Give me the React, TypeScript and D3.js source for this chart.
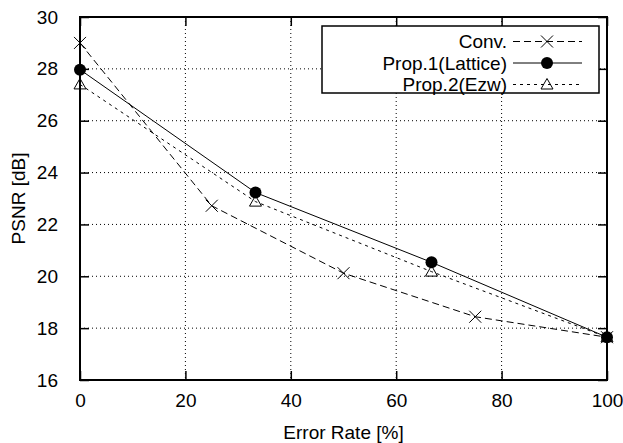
import React, { useRef, useEffect } from 'react';
import * as d3 from 'd3';

// values
const convRate = [0, 25, 50, 75, 100];
const convPsnr = [29.0, 22.72, 20.12, 18.44, 17.65];
const propRate = [0, 33.3, 66.7, 100];
const prop1Psnr = [27.97, 23.23, 20.54, 17.65];
const prop2Psnr = [27.4, 22.88, 20.18, 17.65];
const xTicks = [0, 20, 40, 60, 80, 100];
const yTicks = [16, 18, 20, 22, 24, 26, 28, 30];
const seriesNames = ['Conv.', 'Prop.1(Lattice)', 'Prop.2(Ezw)'];

const W = 623;
const H = 443;
const FONT = 'Liberation Sans, Arial, Helvetica, sans-serif';

const App = () => {
	const svgRef = useRef<SVGSVGElement>(null);

	useEffect(() => {
		const svg = d3.select(svgRef.current);
		svg.selectAll('*').remove();

		const left = 80, right = 607, top = 17, bottom = 380;
		const x = d3.scaleLinear().domain([0, 100]).range([left, right]);
		const y = d3.scaleLinear().domain([16, 30]).range([bottom, top]);

		// grid
		const grid = svg.append('g')
			.attr('stroke', '#000')
			.attr('stroke-width', 1)
			.attr('stroke-dasharray', '1,3');
		grid.selectAll('.gx')
			.data(xTicks.slice(1, -1))
			.join('line')
				.attr('x1', d => x(d)).attr('x2', d => x(d))
				.attr('y1', top).attr('y2', bottom);
		grid.selectAll('.gy')
			.data(yTicks.slice(1, -1))
			.join('line')
				.attr('x1', left).attr('x2', right)
				.attr('y1', d => y(d)).attr('y2', d => y(d));

		// axes: ticks inward on all four sides
		const tl = 9;
		const axisG = svg.append('g').attr('font-family', FONT).attr('font-size', 19);
		const xAxis = d3.axisBottom(x).tickValues(xTicks).tickSizeInner(-tl).tickSizeOuter(0).tickPadding(14);
		const yAxis = d3.axisLeft(y).tickValues(yTicks).tickSizeInner(-tl).tickSizeOuter(0).tickPadding(22);
		const xTop = d3.axisTop(x).tickValues(xTicks).tickSizeInner(-tl).tickSizeOuter(0).tickFormat(() => '');
		const yRight = d3.axisRight(y).tickValues(yTicks).tickSizeInner(-tl).tickSizeOuter(0).tickFormat(() => '');

		axisG.append('g').attr('transform', `translate(0,${bottom})`).call(xAxis);
		axisG.append('g').attr('transform', `translate(${left},0)`).call(yAxis);
		axisG.append('g').attr('transform', `translate(0,${top})`).call(xTop);
		axisG.append('g').attr('transform', `translate(${right},0)`).call(yRight);
		axisG.selectAll('.domain').remove();
		axisG.selectAll('.tick line').attr('stroke', '#000').attr('stroke-width', 1.5);
		axisG.selectAll('.tick text').attr('fill', '#000').attr('font-family', FONT).attr('font-size', 19);

		// border
		svg.append('rect')
			.attr('x', left).attr('y', top)
			.attr('width', right - left).attr('height', bottom - top)
			.attr('fill', 'none').attr('stroke', '#000').attr('stroke-width', 2);

		// axis titles
		svg.append('text')
			.attr('x', (left + right) / 2).attr('y', 439)
			.attr('text-anchor', 'middle')
			.attr('font-family', FONT).attr('font-size', 19)
			.text('Error Rate [%]');
		svg.append('text')
			.attr('transform', `translate(25,${(top + bottom) / 2}) rotate(-90)`)
			.attr('text-anchor', 'middle')
			.attr('font-family', FONT).attr('font-size', 19)
			.text('PSNR [dB]');

		const line = d3.line<[number, number]>().x(d => x(d[0])).y(d => y(d[1]));
		const series = [
			{ pts: convRate.map((r, i) => [r, convPsnr[i]] as [number, number]), dash: '7,4', mark: 'cross' },
			{ pts: propRate.map((r, i) => [r, prop1Psnr[i]] as [number, number]), dash: null, mark: 'circle' },
			{ pts: propRate.map((r, i) => [r, prop2Psnr[i]] as [number, number]), dash: '3,4', mark: 'tri' },
		];

		const drawMark = (g: any, mark: string, cx: number, cy: number) => {
			if (mark === 'cross') {
				const s = 6;
				g.append('path')
					.attr('d', `M${cx - s},${cy - s}L${cx + s},${cy + s}M${cx - s},${cy + s}L${cx + s},${cy - s}`)
					.attr('stroke', '#000').attr('stroke-width', 1).attr('fill', 'none');
			} else if (mark === 'circle') {
				g.append('circle').attr('cx', cx).attr('cy', cy).attr('r', 6).attr('fill', '#000');
			} else {
				const s = 6;
				g.append('path')
					.attr('d', `M${cx},${cy - s}L${cx + s},${cy + s * 0.75}L${cx - s},${cy + s * 0.75}Z`)
					.attr('stroke', '#000').attr('stroke-width', 1).attr('fill', 'none');
			}
		};

		const plot = svg.append('g');
		series.forEach(s => {
			plot.append('path')
				.attr('d', line(s.pts))
				.attr('fill', 'none').attr('stroke', '#000').attr('stroke-width', 1)
				.attr('stroke-dasharray', s.dash);
			s.pts.forEach(p => drawMark(plot, s.mark, x(p[0]), y(p[1])));
		});

		// legend
		const lg = svg.append('g').attr('font-family', FONT).attr('font-size', 19);
		lg.append('rect')
			.attr('x', 322).attr('y', 26).attr('width', 277).attr('height', 67)
			.attr('fill', '#fff').attr('stroke', '#000').attr('stroke-width', 1.5);
		series.forEach((s, i) => {
			const cy = 41.5 + i * 21.5;
			lg.append('text')
				.attr('x', 507).attr('y', cy).attr('dy', '0.35em')
				.attr('text-anchor', 'end')
				.text(seriesNames[i]);
			lg.append('line')
				.attr('x1', 513).attr('x2', 582).attr('y1', cy).attr('y2', cy)
				.attr('stroke', '#000').attr('stroke-width', 1)
				.attr('stroke-dasharray', s.dash);
			drawMark(lg, s.mark, 547, cy);
		});
	}, []);

	return (
		<svg ref={svgRef} width={W} height={H}
			style={{ position: 'absolute', left: 0, top: 0, background: '#fff' }} />
	);
};

export default App;
